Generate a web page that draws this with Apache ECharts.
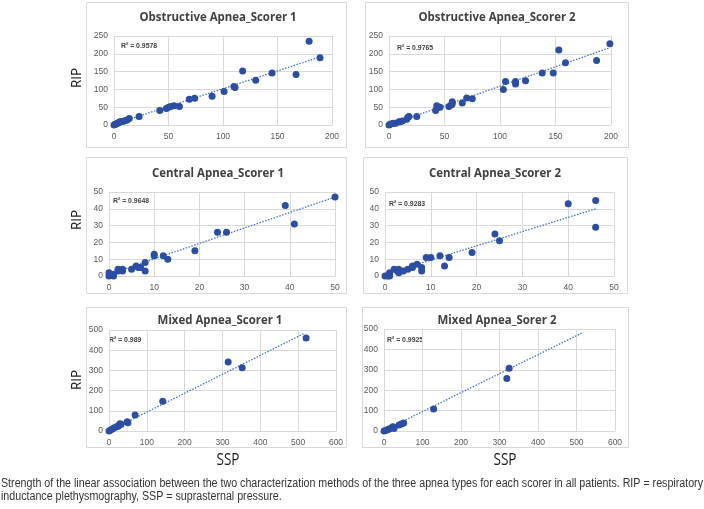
<!DOCTYPE html>
<html><head><meta charset="utf-8">
<script src="https://cdn.jsdelivr.net/npm/echarts@6/dist/echarts.min.js"></script>
<style>html,body{margin:0;padding:0;background:#fff}#c{width:704px;height:509px}</style>
</head><body><div id="c"></div>
<script>
// ---- data ----
var titles = ['Obstructive Apnea_Scorer 1','Obstructive Apnea_Scorer 2','Central Apnea_Scorer 1','Central Apnea_Scorer 2','Mixed Apnea_Scorer 1','Mixed Apnea_Sorer 2'];
var r2Labels = ['R² = 0.9578','R² = 0.9765','R² = 0.9648','R² = 0.9283','R² = 0.989','R² = 0.9925'];
var ob1 = [[0,0],[1,2],[2,3],[3,4],[4,6],[5,8],[6,10],[8,10],[10,12],[12,14],[14,18],[23,24],[42,41],[48,46],[50,50],[52,52],[55,54],[60,52],[69,72],[74,75],[90,81],[101,94],[110,108],[111,105],[118,152],[130,126],[145,146],[167,142],[179,235],[189,189]];
var ob2 = [[0,0],[1,2],[3,4],[4,5],[6,5],[9,9],[10,9],[12,11],[16,16],[17,22],[18,24],[25,24],[42,41],[43,54],[44,50],[46,50],[54,52],[56,56],[57,60],[57,65],[66,62],[70,76],[75,74],[103,100],[105,122],[114,122],[114,115],[123,124],[138,146],[148,146],[153,211],[159,175],[187,181],[199,228]];
var ce1 = [[0,0],[0,2],[0.3,1],[1,0],[1,1],[2,3],[2,4],[3,3],[3,4],[5,4],[6,6],[6.5,5],[7,5],[8,8],[8,3],[10,13],[10,12],[12,12],[13,10],[19,15],[24,26],[26,26],[39,42],[41,31],[50,47]];
var ce2 = [[0,0],[0.6,0],[1,2],[1,1],[1,0],[2,4],[2.7,3],[3,4],[3,2],[4,3],[5,4],[6,5],[6,6],[7,7],[8,5],[8,3],[9,11],[10,11],[12,12],[13,6],[14,11],[19,14],[24,25],[25,21],[40,43],[46,45],[46,29]];
var mx1 = [[0,0],[4,5],[9,10],[14,16],[20,21],[24,24],[27,28],[29,36],[32,33],[48,46],[50,41],[69,79],[142,147],[315,342],[352,313],[521,460]];
var mx2 = [[0,0],[4,3],[9,6],[13,10],[19,15],[23,21],[26,12],[39,30],[45,34],[51,39],[129,108],[319,257],[325,308]];
var trend1 = [[0,2],[189,191]];
var trend2 = [[0,0],[199,217]];
var trend3 = [[0,1],[50,47]];
var trend4 = [[0,1],[46,40]];
var trend5 = [[0,0],[516,483]];
var trend6 = [[0,2],[518,484]];
var xMax = [200,200,50,50,600,600];
var xStep = [50,50,10,10,100,100];
var yMax = [250,250,50,50,500,500];
var yStep = [50,50,10,10,100,100];
var yAxisName = 'RIP';
var xAxisName = 'SSP';
var caption1 = 'Strength of the linear association between the two characterization methods of the three apnea types for each scorer in all patients. RIP = respiratory';
var caption2 = 'inductance plethysmography, SSP = suprasternal pressure.';

var scatterData = [ob1,ob2,ce1,ce2,mx1,mx2];
var trendData = [trend1,trend2,trend3,trend4,trend5,trend6];

// ---- layout ----
var grids = [
  {left:114, top:36, width:218, height:89},
  {left:389, top:36, width:222, height:89},
  {left:109, top:192, width:226, height:84},
  {left:385, top:192, width:229, height:84},
  {left:109, top:330, width:227, height:101},
  {left:384, top:329, width:231, height:102}
];
var boxes = [[86,2,260,145],[365,2,263,145],[86,157,260,136],[363,157,264,136],[86,307,260,140],[362,307,266,140]];
var titlePos = [[218,17],[497,17],[218,173],[495,173],[220,320],[497,320]];
var r2Pos = [[121,46],[397,48],[113,201],[389,204],[109,340],[387,340]];

var gridColor = '#D9D9D9';
var labelColor = '#595959';
var markerColor = '#2B4EA2';
var trendColor = '#4472C4';

var mctx = document.createElement('canvas').getContext('2d');
function fitScale(text, font, target) {
  mctx.font = font;
  var w = mctx.measureText(text).width;
  return w > 0 ? target / w : 1;
}

var xAxes = [], yAxes = [], series = [], graphic = [];
for (var i = 0; i < 6; i++) {
  xAxes.push({type:'value', gridIndex:i, min:0, max:xMax[i], interval:xStep[i],
    axisLine:{show:true, onZero:false, lineStyle:{color:gridColor}}, axisTick:{show:false},
    splitLine:{show:true, lineStyle:{color:gridColor, width:1}},
    axisLabel:{color:labelColor, fontSize:8.5, fontFamily:'Liberation Sans', margin:7, showMinLabel:true, showMaxLabel:true}});
  yAxes.push({type:'value', gridIndex:i, min:0, max:yMax[i], interval:yStep[i],
    axisLine:{show:false}, axisTick:{show:false},
    splitLine:{show:true, lineStyle:{color:gridColor, width:1}},
    axisLabel:{color:labelColor, fontSize:8.5, fontFamily:'Liberation Sans', margin:6}});
  series.push({type:'scatter', xAxisIndex:i, yAxisIndex:i, data:scatterData[i], symbolSize:7,
    itemStyle:{color:markerColor, opacity:1}, z:3});
  series.push({type:'line', xAxisIndex:i, yAxisIndex:i, data:trendData[i], symbol:'none',
    lineStyle:{color:trendColor, width:1.3, type:[1.5,1.5]}, z:2, silent:true});
  var b = boxes[i];
  graphic.push({type:'rect', shape:{x:b[0]+0.5, y:b[1]+0.5, width:b[2], height:b[3]},
    style:{fill:'none', stroke:'#D9D9D9', lineWidth:1}, z:-1});
  graphic.push({type:'text', x:titlePos[i][0], y:titlePos[i][1], scaleX:0.88,
    style:{text:titles[i], fill:'#404040', font:'bold 13px "Open Sans", "Liberation Sans", sans-serif', textAlign:'center', textVerticalAlign:'middle'}});
  graphic.push({type:'text', x:r2Pos[i][0], y:r2Pos[i][1], scaleX:0.86,
    style:{text:r2Labels[i], fill:'#404040', font:'bold 8px "Liberation Sans", sans-serif', textAlign:'left', textVerticalAlign:'middle'}});
}
var ripY = [78, 220, 380];
for (var k = 0; k < 3; k++) {
  graphic.push({type:'text', x:77, y:ripY[k], rotation:Math.PI/2, scaleX:0.9,
    style:{text:yAxisName, fill:'#1a1a1a', font:'15px "Open Sans", "Liberation Sans", sans-serif', textAlign:'center', textVerticalAlign:'middle'}});
}
var sspX = [228, 505];
for (var m = 0; m < 2; m++) {
  graphic.push({type:'text', x:sspX[m], y:460, scaleX:0.85,
    style:{text:xAxisName, fill:'#1a1a1a', font:'16px "Open Sans", "Liberation Sans", sans-serif', textAlign:'center', textVerticalAlign:'middle'}});
}
var capFont = '12px "Liberation Sans", Arial, sans-serif';
var capScale = fitScale(caption1, capFont, 702);
graphic.push({type:'text', x:1, y:484, scaleX:capScale, style:{text:caption1, fill:'#333', font:capFont, textVerticalAlign:'middle'}});
graphic.push({type:'text', x:1, y:497, scaleX:capScale, style:{text:caption2, fill:'#333', font:capFont, textVerticalAlign:'middle'}});

var chart = echarts.init(document.getElementById('c'), null, {renderer:'canvas'});
chart.setOption({animation:false, grid:grids, xAxis:xAxes, yAxis:yAxes, series:series, graphic:graphic});
</script></body></html>
